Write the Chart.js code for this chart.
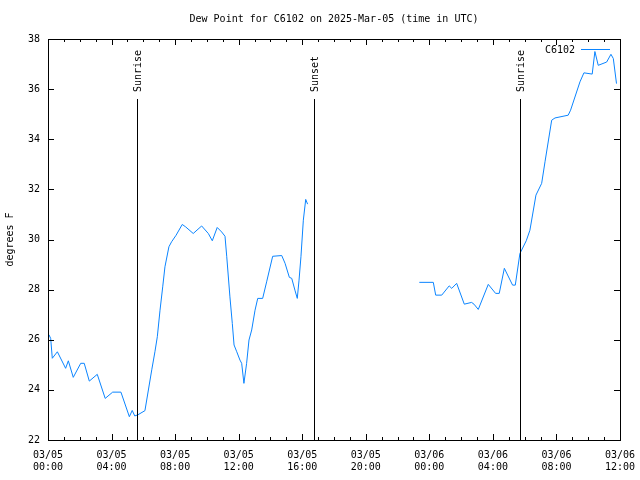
<!DOCTYPE html>
<html>
<head>
<meta charset="utf-8">
<script src="https://cdn.jsdelivr.net/npm/chart.js@4.4.1/dist/chart.umd.min.js"></script>
<style>
  html, body { margin: 0; padding: 0; background: #fff; }
  canvas { display: block; }
</style>
</head>
<body>
<canvas id="chart" width="640" height="480"></canvas>
<script>
// hours since 03/05 00:00 UTC, and dew point in degrees F (null = no data)
const hours = [
  0.06, 0.17, 0.27, 0.59, 1.11, 1.28, 1.59, 2.06, 2.28, 2.6, 3.1, 3.6, 4.07, 4.59,
  5.12, 5.3, 5.46, 5.64, 6.1, 6.53, 6.73, 6.88, 7.05, 7.22, 7.36, 7.61, 7.78, 8.06,
  8.45, 8.67, 9.14, 9.67, 10.09, 10.34, 10.65, 10.93, 11.14, 11.25, 11.45, 11.6,
  11.71, 11.88, 12.08, 12.19, 12.33, 12.5, 12.65, 12.82, 13.03, 13.2, 13.51, 13.76,
  14.14, 14.71, 14.92, 15.19, 15.34, 15.54, 15.69, 15.8, 15.92, 16.07, 16.22, 16.34,
  20.0,
  23.37, 24.25, 24.4, 24.78, 25.25, 25.41, 25.72, 26.2, 26.66, 26.81, 27.08, 27.71,
  28.17, 28.4, 28.72, 29.24, 29.41, 29.7, 30.1, 30.33, 30.71, 31.07, 31.28, 31.7,
  31.91, 32.74, 32.89, 33.48, 33.73, 34.25, 34.42, 34.63, 35.16, 35.43, 35.58, 35.78
];
const dewPoint = [
  26.2, 26.05, 25.26, 25.52, 24.86, 25.16, 24.5, 25.06, 25.06, 24.35, 24.62, 23.66, 23.91, 23.91,
  22.93, 23.18, 22.96, 23.0, 23.17, 24.8, 25.52, 26.12, 27.18, 28.11, 28.91, 29.71, 29.91, 30.17,
  30.6, 30.5, 30.24, 30.54, 30.24, 29.95, 30.48, 30.3, 30.13, 29.31, 27.71, 26.65,
  25.79, 25.52, 25.19, 25.06, 24.26, 25.06, 25.99, 26.39, 27.18, 27.65, 27.65, 28.31,
  29.33, 29.36, 29.05, 28.49, 28.45, 27.98, 27.65, 28.38, 29.31, 30.77, 31.6, 31.41,
  null,
  28.29, 28.29, 27.78, 27.78, 28.15, 28.05, 28.25, 27.42, 27.49, 27.42, 27.21, 28.21,
  27.85, 27.85, 28.85, 28.18, 28.18, 29.44, 29.95, 30.37, 31.77, 32.24, 33.1, 34.76,
  34.85, 34.96, 35.16, 36.29, 36.65, 36.6, 37.5, 36.95, 37.08, 37.39, 37.22, 36.22
];
const xTickLabels = [
  ['03/05', '00:00'], ['03/05', '04:00'], ['03/05', '08:00'], ['03/05', '12:00'],
  ['03/05', '16:00'], ['03/05', '20:00'], ['03/06', '00:00'], ['03/06', '04:00'],
  ['03/06', '08:00'], ['03/06', '12:00']
];
const eventHours = [5.6, 16.74, 29.7];
const eventNames = ['Sunrise', 'Sunset', 'Sunrise'];
const seriesName = 'C6102';
const chartTitle = 'Dew Point for C6102 on 2025-Mar-05 (time in UTC)';

const FONT = 'DejaVu Sans Mono';
const lineColor = '#0a84ff';

// gnuplot-like frame: title, border, inward ticks on all sides, event lines, key
const framePlugin = {
  id: 'frame',
  afterDatasetsDraw(chart) {
    const { ctx, chartArea: a, scales: { x, y } } = chart;
    ctx.save();
    ctx.font = '10px "' + FONT + '"';
    ctx.fillStyle = '#000';
    ctx.textAlign = 'center';
    ctx.textBaseline = 'middle';
    ctx.fillText(chartTitle, (a.left + a.right) / 2, 19);

    ctx.strokeStyle = '#000';
    ctx.lineWidth = 1;
    ctx.beginPath();
    for (let h = 0; h <= 36; h++) {
      const px = Math.round(x.getPixelForValue(h)) + 0.5;
      const len = h % 4 === 0 ? 6 : 3;
      ctx.moveTo(px, a.bottom); ctx.lineTo(px, a.bottom - len);
      ctx.moveTo(px, a.top); ctx.lineTo(px, a.top + len);
    }
    for (let v = 22; v <= 38; v += 2) {
      const py = Math.round(y.getPixelForValue(v)) + 0.5;
      ctx.moveTo(a.left, py); ctx.lineTo(a.left + 6, py);
      ctx.moveTo(a.right, py); ctx.lineTo(a.right - 6, py);
    }
    ctx.stroke();
    ctx.strokeRect(Math.round(a.left) + 0.5, Math.round(a.top) + 0.5,
      Math.round(a.right - a.left), Math.round(a.bottom - a.top));

    // sunrise / sunset markers
    eventHours.forEach((h, i) => {
      const px = Math.round(x.getPixelForValue(h)) + 0.5;
      ctx.beginPath();
      ctx.moveTo(px, a.top + 60);
      ctx.lineTo(px, a.bottom);
      ctx.stroke();
      ctx.save();
      ctx.translate(px + 1, a.top + 53);
      ctx.rotate(-Math.PI / 2);
      ctx.textAlign = 'left';
      ctx.textBaseline = 'middle';
      ctx.fillText(eventNames[i], 0, 0);
      ctx.restore();
    });

    // key
    ctx.textAlign = 'right';
    ctx.textBaseline = 'middle';
    ctx.fillText(seriesName, a.right - 45, a.top + 11);
    ctx.strokeStyle = lineColor;
    ctx.beginPath();
    ctx.moveTo(a.right - 39, a.top + 10.5);
    ctx.lineTo(a.right - 10, a.top + 10.5);
    ctx.stroke();
    ctx.restore();
  }
};

new Chart(document.getElementById('chart'), {
  type: 'line',
  data: {
    datasets: [{
      label: seriesName,
      data: hours.map((h, i) => ({ x: h, y: dewPoint[i] })),
      borderColor: lineColor,
      borderWidth: 1,
      pointRadius: 0,
      tension: 0,
      spanGaps: false,
      fill: false
    }]
  },
  options: {
    responsive: false,
    animation: false,
    devicePixelRatio: 1,
    layout: { padding: { left: 0, right: 20, top: 39, bottom: 0 } },
    plugins: {
      legend: { display: false },
      tooltip: { enabled: false },
      title: { display: false }
    },
    scales: {
      x: {
        type: 'linear',
        min: 0,
        max: 36,
        grid: { display: false, drawTicks: false },
        border: { display: false },
        ticks: {
          stepSize: 4,
          autoSkip: false,
          maxRotation: 0,
          padding: 9,
          color: '#000',
          font: { family: FONT, size: 10 },
          callback: (v) => xTickLabels[v / 4]
        },
        afterFit: (s) => { s.height = 40; s.paddingLeft = 0; s.paddingRight = 0; }
      },
      y: {
        min: 22,
        max: 38,
        grid: { display: false, drawTicks: false },
        border: { display: false },
        ticks: {
          stepSize: 2,
          padding: 8,
          color: '#000',
          font: { family: FONT, size: 10 }
        },
        title: {
          display: true,
          text: 'degrees F',
          color: '#000',
          font: { family: FONT, size: 10 },
          padding: { top: 4, bottom: 0 }
        },
        afterFit: (s) => { s.width = 48; }
      }
    }
  },
  plugins: [framePlugin]
});
</script>
</body>
</html>
